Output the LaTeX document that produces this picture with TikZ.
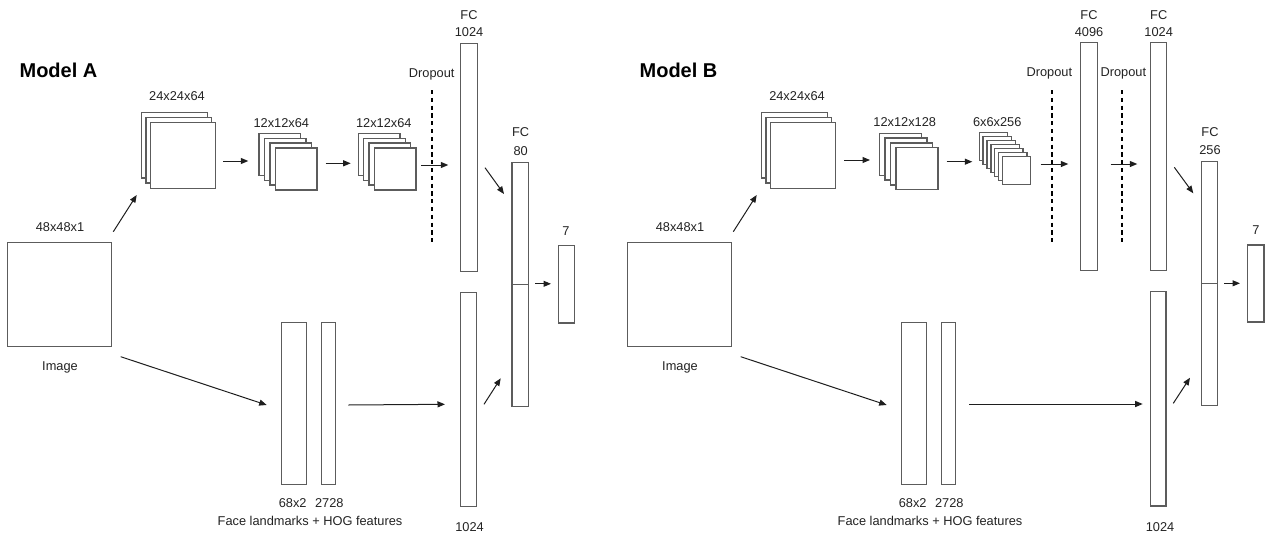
\documentclass[tikz,border=0pt]{standalone}
\usepackage{fontspec}
\setmainfont{Liberation Sans}
\usetikzlibrary{arrows.meta,fit}

\definecolor{boxc}{RGB}{92,92,92}
\definecolor{txtc}{RGB}{34,34,34}
\definecolor{arrc}{RGB}{30,30,30}

\tikzset{
  blk/.style={draw=boxc, fill=white, line width=1.4pt, inner sep=0pt, outer sep=0pt},
  lbl/.style={text=txtc, font=\fontsize{12.8}{14}\selectfont, inner sep=0pt,
              text height=9.2pt, text depth=0pt, anchor=center},
  ttl/.style={text=black, font=\fontsize{20}{22}\selectfont\bfseries, inner sep=0pt,
              text height=14.3pt, text depth=0pt, anchor=center},
  arr/.style={draw=arrc, line width=1pt, -{Triangle[length=7.5pt,width=6pt]}},
  drop/.style={draw=black, line width=1.7pt, dash pattern=on 4.2pt off 3.6pt}
}

% a rectangle spanned by two corners
\newcommand{\rbox}[3]{\node[blk, fit={#2 #3}] (#1) {};}
% a stack of feature maps: name, count, x0, y0, dx, dy, width, height
\newcommand{\fmstack}[8]{%
  \foreach \i in {1,...,#2}{%
    \node[blk, minimum width=#7pt, minimum height=#8pt, anchor=north west]
      (#1\i) at ({#3+(\i-1)*#5},{#4+(\i-1)*#6}) {};
  }}

\begin{document}
\begin{tikzpicture}[x=1pt,y=-1pt]
\useasboundingbox (0,0) rectangle (1266,533);

% ===================== Model A =====================
\node[ttl] (tA) at (58.5,70) {Model A};

\rbox{imgA}{(7.5,242.5)}{(111.5,346.5)}
\node[lbl] (imgAsz) at (60,226.5) {48x48x1};
\node[lbl] (imgAl) at (60,366) {Image};

\fmstack{cAa}{3}{141.7}{112.3}{4.25}{5.2}{65.5}{65.5}
\node[lbl] (cAal) at (177,96) {24x24x64};
\fmstack{cAb}{4}{259}{133.3}{5.55}{4.9}{41.5}{42}
\node[lbl] (cAbl) at (281.3,122.7) {12x12x64};
\fmstack{cAc}{4}{358.3}{133.3}{5.35}{4.9}{41.7}{42}
\node[lbl] (cAcl) at (383.8,122.7) {12x12x64};

\coordinate (dA1) at (432.3,90);
\coordinate (dA2) at (432.3,242);
\draw[drop] (dA1) -- (dA2);
\node[lbl] (dAl) at (431.7,72.7) {Dropout};

\rbox{fcA}{(460.7,43.3)}{(477.3,271.7)}
\node[lbl] (fcAl1) at (469,15) {FC};
\node[lbl] (fcAl2) at (469,31.7) {1024};
\rbox{fbA}{(460.7,292.3)}{(476.7,506.7)}
\node[lbl] (fbAl) at (469.5,526.5) {1024};

\rbox{f80A}{(512,162.3)}{(528.7,406.7)}
\draw[boxc, line width=1.4pt] (f80A.west) -- (f80A.east);
\node[lbl] (f80Al1) at (520.7,132.3) {FC};
\node[lbl] (f80Al2) at (520.7,151) {80};

\rbox{oA}{(558.3,245.7)}{(574.3,323)}
\node[lbl] (oAl) at (566,231) {7};

\rbox{lmA}{(281.7,322.3)}{(306.7,484.3)}
\rbox{hgA}{(321.7,322.3)}{(335.7,484.3)}
\node[lbl] (lmAl) at (292.7,502.7) {68x2};
\node[lbl] (hgAl) at (329.3,502.7) {2728};
\node[lbl] (ftAl) at (310,520.7) {Face landmarks + HOG features};

% connectors, Model A
\coordinate (a1s) at (113.3,231.7);  \coordinate (a1e) at (136.7,195);
\coordinate (a2s) at (223.3,161);    \coordinate (a2e) at (248.3,161);
\coordinate (a3s) at (325.7,163.3);  \coordinate (a3e) at (350.7,163.3);
\coordinate (a4s) at (421,165);      \coordinate (a4e) at (448.3,165);
\coordinate (a5s) at (485,167.7);    \coordinate (a5e) at (504,194);
\coordinate (a6s) at (484,404.3);    \coordinate (a6e) at (500.7,378.3);
\coordinate (a7s) at (535,283.8);    \coordinate (a7e) at (551,283.8);
\coordinate (a8s) at (120.7,356.7);  \coordinate (a8e) at (266.7,405);
\coordinate (a9s) at (348.3,405);    \coordinate (a9e) at (445,404.3);
\foreach \k in {1,...,9} \draw[arr] (a\k s) -- (a\k e);

% ===================== Model B =====================
\node[ttl] (tB) at (678.5,70) {Model B};

\rbox{imgB}{(627.5,242.5)}{(731.5,346.5)}
\node[lbl] (imgBsz) at (680,226.5) {48x48x1};
\node[lbl] (imgBl) at (680,366) {Image};

\fmstack{cBa}{3}{761.7}{112.3}{4.25}{5.2}{65.5}{65.5}
\node[lbl] (cBal) at (797,96) {24x24x64};
\fmstack{cBb}{4}{879.3}{133.3}{5.55}{4.8}{42}{42}
\node[lbl] (cBbl) at (904.7,122.3) {12x12x128};
\fmstack{cBc}{7}{979.3}{132.7}{3.83}{4}{28.4}{27.6}
\node[lbl] (cBcl) at (997.2,122.3) {6x6x256};

\coordinate (dB1) at (1052.3,90);
\coordinate (dB2) at (1052.3,242);
\draw[drop] (dB1) -- (dB2);
\node[lbl] (dBl) at (1049.3,71.7) {Dropout};

\rbox{f4B}{(1080.7,42.7)}{(1097.3,270.7)}
\node[lbl] (f4Bl1) at (1089,15) {FC};
\node[lbl] (f4Bl2) at (1089,31.5) {4096};

\coordinate (eB1) at (1122.3,90);
\coordinate (eB2) at (1122.3,242);
\draw[drop] (eB1) -- (eB2);
\node[lbl] (eBl) at (1123.3,71.7) {Dropout};

\rbox{fcB}{(1150.3,42.7)}{(1166.7,270.7)}
\node[lbl] (fcBl1) at (1158.7,15) {FC};
\node[lbl] (fcBl2) at (1158.7,31.5) {1024};
\rbox{fbB}{(1150.3,291.7)}{(1166,506)}
\node[lbl] (fbBl) at (1160,526.5) {1024};

\rbox{f2B}{(1201.7,161.7)}{(1217.7,405.7)}
\draw[boxc, line width=1.4pt] (f2B.west) -- (f2B.east);
\node[lbl] (f2Bl1) at (1210,131.7) {FC};
\node[lbl] (f2Bl2) at (1210,150) {256};

\rbox{oB}{(1247.7,245)}{(1264,322)}
\node[lbl] (oBl) at (1256,230) {7};

\rbox{lmB}{(901.7,322.3)}{(926.7,484.3)}
\rbox{hgB}{(941.7,322.3)}{(955.7,484.3)}
\node[lbl] (lmBl) at (912.7,502.7) {68x2};
\node[lbl] (hgBl) at (949.3,502.7) {2728};
\node[lbl] (ftBl) at (930,520.7) {Face landmarks + HOG features};

% connectors, Model B
\coordinate (b1s) at (733.3,231.7);   \coordinate (b1e) at (756.7,195);
\coordinate (b2s) at (844.3,160);     \coordinate (b2e) at (870,160);
\coordinate (b3s) at (946.7,161.7);   \coordinate (b3e) at (972.3,161.7);
\coordinate (b4s) at (1040.7,164);    \coordinate (b4e) at (1068.3,164);
\coordinate (b5s) at (1110.7,164);    \coordinate (b5e) at (1137.3,164);
\coordinate (b6s) at (1174.3,167.3);  \coordinate (b6e) at (1193.3,193.3);
\coordinate (b7s) at (1173.3,403.3);  \coordinate (b7e) at (1190,377.7);
\coordinate (b8s) at (1224,283.3);    \coordinate (b8e) at (1240,283.3);
\coordinate (b9s) at (740.7,356.7);   \coordinate (b9e) at (886.7,405);
\coordinate (b10s) at (969,404);      \coordinate (b10e) at (1142.7,404);
\foreach \k in {1,...,10} \draw[arr] (b\k s) -- (b\k e);

\end{tikzpicture}
\end{document}
